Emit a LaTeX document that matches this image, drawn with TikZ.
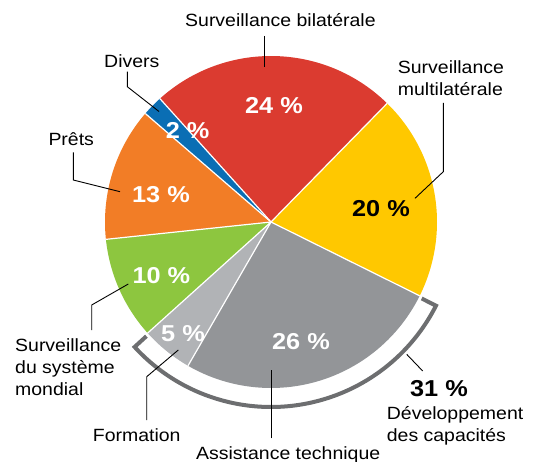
\documentclass[tikz,border=0pt]{standalone}
\usepackage{fontspec}
\usetikzlibrary{calc}
\setmainfont{Liberation Sans}[FakeStretch=1.1]
\definecolor{cred}{HTML}{DB3B30}
\definecolor{cyellow}{HTML}{FFC800}
\definecolor{cdgray}{HTML}{939598}
\definecolor{clgray}{HTML}{B1B3B6}
\definecolor{cgreen}{HTML}{8DC63F}
\definecolor{corange}{HTML}{F27D26}
\definecolor{cblue}{HTML}{0A6EB4}
\definecolor{cbracket}{HTML}{6D6E70}
\begin{document}
\begin{tikzpicture}[x=1pt,y=1pt,
  lbl/.style={inner sep=0pt, font=\fontsize{17.7}{22}\selectfont, text=black},
  pct/.style={inner sep=0pt, font=\fontsize{23}{26}\selectfont\bfseries, text=white},
  leader/.style={draw=black, line width=0.9pt},
  sep/.style={draw=white, line width=1.2pt}]
\useasboundingbox (0,0) rectangle (534,461);
\coordinate (c) at (271,239);
\def\R{166pt}
% slices
\fill[cred]    (c) -- ++(45.6:\R)  arc[start angle=45.6,  end angle=132,   radius=\R] -- cycle;
\fill[cblue]   (c) -- ++(132:\R)   arc[start angle=132,   end angle=139.2, radius=\R] -- cycle;
\fill[corange] (c) -- ++(139.2:\R) arc[start angle=139.2, end angle=186,   radius=\R] -- cycle;
\fill[cgreen]  (c) -- ++(186:\R)   arc[start angle=186,   end angle=222,   radius=\R] -- cycle;
\fill[clgray]  (c) -- ++(222:\R)   arc[start angle=222,   end angle=240,   radius=\R] -- cycle;
\fill[cdgray]  (c) -- ++(240:\R)   arc[start angle=240,   end angle=333.6, radius=\R] -- cycle;
\fill[cyellow] (c) -- ++(333.6:\R) arc[start angle=333.6, end angle=405.6, radius=\R] -- cycle;
% separators
\foreach \a in {45.6,132,139.2,186,222,240,333.6}
  \draw[sep] (c) -- ++(\a:\R);
% bracket
\draw[cbracket, line width=4pt, line join=miter]
  ($(c)+(222.5:169pt)$) -- ($(c)+(222.5:185pt)$)
  arc[start angle=222.5, end angle=333.1, radius=185pt]
  -- ($(c)+(333.1:169pt)$);
% percentages
\node[pct] (p24) at (274,355.3) {24 \%};
\node[pct, text=black] (p20) at (381,252) {20 \%};
\node[pct] (p2)  at (187.7,330) {2 \%};
\node[pct] (p13) at (161,266) {13 \%};
\node[pct] (p10) at (161.4,185) {10 \%};
\node[pct] (p5)  at (183,127) {5 \%};
\node[pct] (p26) at (301,119) {26 \%};
\node[pct, text=black] (p31) at (439,72) {31 \%};
% labels
\node[lbl, anchor=base west] (lbil) at (185,434.3) {Surveillance bilatérale};
\node[lbl, anchor=base west] (lmul) at (397.7,387) {\begin{tabular}[t]{@{}l@{}}Surveillance\\multilatérale\end{tabular}};
\node[lbl, anchor=base west] (ldiv) at (104,393.3) {Divers};
\node[lbl, anchor=base west] (lpre) at (48.3,316) {Prêts};
\node[lbl, anchor=base west] (lmon) at (15,110) {\begin{tabular}[t]{@{}l@{}}Surveillance\\du système\\mondial\end{tabular}};
\node[lbl, anchor=base west] (lfor) at (92.7,19.3) {Formation};
\node[lbl, anchor=base west] (lass) at (196,1.6) {Assistance technique};
\node[lbl, anchor=base west] (ldev) at (386.7,41.7) {\begin{tabular}[t]{@{}l@{}}Développement\\des capacités\end{tabular}};
% leader coordinates
\coordinate (bil1) at (264.3,425);   \coordinate (bil2) at (264.3,394.3);
\coordinate (mul1) at (443.3,358);   \coordinate (mul2) at (443.3,289.3); \coordinate (mul3) at (415,262.7);
\coordinate (div1) at (127.3,389.3); \coordinate (div2) at (127.3,374.3); \coordinate (div3) at (159,349.5);
\coordinate (pre1) at (73.3,308.7);  \coordinate (pre2) at (73.3,281);    \coordinate (pre3) at (120,269.3);
\coordinate (mon1) at (91.7,131);    \coordinate (mon2) at (91.7,156);    \coordinate (mon3) at (128.3,177);
\coordinate (for1) at (146.7,41);    \coordinate (for2) at (146.7,84.3);  \coordinate (for3) at (178.3,111);
\coordinate (ass1) at (271.7,22.7);  \coordinate (ass2) at (271.7,91);
\coordinate (dev1) at (422.7,90);    \coordinate (dev2) at (406.7,106.7);
\draw[leader] (bil1) -- (bil2);
\draw[leader] (mul1) -- (mul2) -- (mul3);
\draw[leader] (div1) -- (div2) -- (div3);
\draw[leader] (pre1) -- (pre2) -- (pre3);
\draw[leader] (mon1) -- (mon2) -- (mon3);
\draw[leader] (for1) -- (for2) -- (for3);
\draw[leader] (ass1) -- (ass2);
\draw[leader] (dev1) -- (dev2);
\end{tikzpicture}
\end{document}
